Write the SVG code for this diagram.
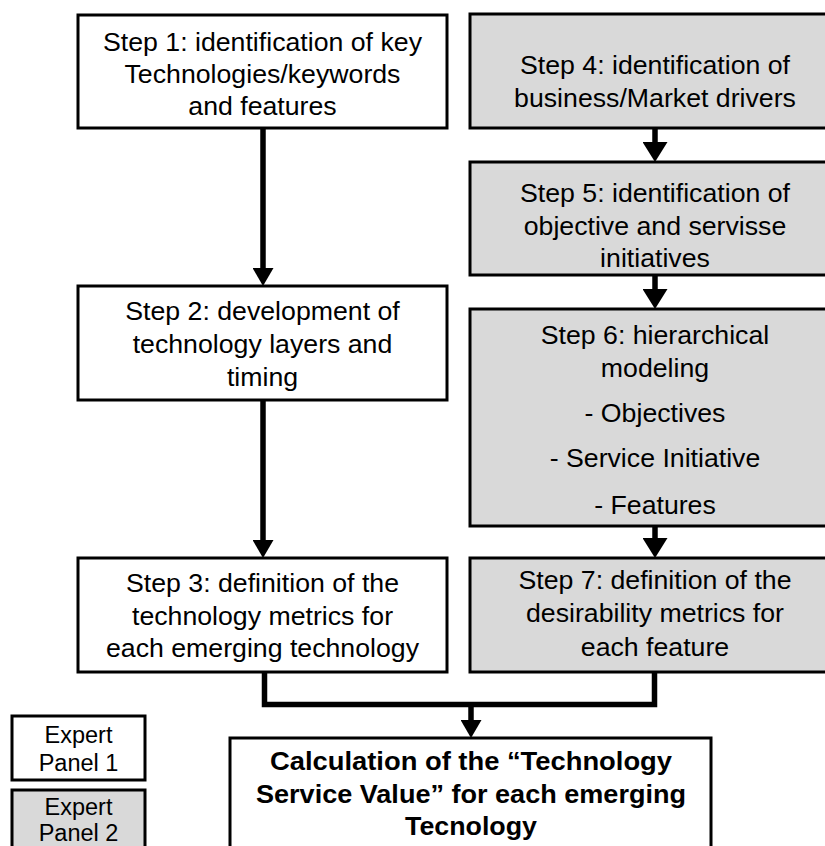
<svg xmlns="http://www.w3.org/2000/svg" width="825" height="846" viewBox="0 0 825 846">
<defs>
<style>
.box{stroke:#000;stroke-width:3}
.p1{fill:#fff}
.p2{fill:#d9d9d9}
text{font-family:"Liberation Sans",Arial,sans-serif;font-size:26.7px;fill:#000;text-anchor:middle}
.leg{font-size:23.5px}
.bold{font-weight:bold;font-size:25px}
.conn{fill:none;stroke:#000;stroke-width:5.5}
</style>
<marker id="ah" markerUnits="userSpaceOnUse" markerWidth="18" markerHeight="21" viewBox="0 0 18 21" refX="0" refY="10.5" orient="auto">
<path d="M0,0 L18,10.5 L0,21 z" fill="#000"/>
</marker>
<marker id="ah2" markerUnits="userSpaceOnUse" markerWidth="20" markerHeight="25" viewBox="0 0 20 25" refX="0" refY="12.5" orient="auto">
<path d="M0,0 L20,12.5 L0,25 z" fill="#000"/>
</marker>
</defs>
<rect width="825" height="846" fill="#fff"/>

<g id="connectors">
<line class="conn" x1="263" y1="128" x2="263" y2="268" marker-end="url(#ah)"/>
<line class="conn" x1="263" y1="400" x2="263" y2="540" marker-end="url(#ah)"/>
<line class="conn" x1="655" y1="128" x2="655" y2="142" marker-end="url(#ah2)"/>
<line class="conn" x1="655" y1="275" x2="655" y2="289" marker-end="url(#ah2)"/>
<line class="conn" x1="655" y1="526" x2="655" y2="538" marker-end="url(#ah2)"/>
<polyline class="conn" points="264.5,672 264.5,704.5 654.5,704.5 654.5,672"/>
<line class="conn" x1="471" y1="704" x2="471" y2="720" marker-end="url(#ah)"/>
</g>

<g id="step1">
<rect class="box p1" x="78" y="15" width="369" height="113"/>
<text x="262.5" y="51">Step 1: identification of key</text>
<text x="262.5" y="83">Technologies/keywords</text>
<text x="262.5" y="115">and features</text>
</g>

<g id="step2">
<rect class="box p1" x="78" y="286" width="369" height="114"/>
<text x="262.5" y="320">Step 2: development of</text>
<text x="262.5" y="353">technology layers and</text>
<text x="262.5" y="386">timing</text>
</g>

<g id="step3">
<rect class="box p1" x="78" y="558" width="369" height="114"/>
<text x="262.5" y="592">Step 3: definition of the</text>
<text x="262.5" y="625">technology metrics for</text>
<text x="262.5" y="657">each emerging technology</text>
</g>

<g id="step4">
<rect class="box p2" x="470" y="14" width="370" height="114"/>
<text x="655" y="74">Step 4: identification of</text>
<text x="655" y="107">business/Market drivers</text>
</g>

<g id="step5">
<rect class="box p2" x="470" y="162" width="370" height="113"/>
<text x="655" y="202">Step 5: identification of</text>
<text x="655" y="235">objective and servisse</text>
<text x="655" y="267">initiatives</text>
</g>

<g id="step6">
<rect class="box p2" x="470" y="309" width="370" height="217"/>
<text x="655" y="344">Step 6: hierarchical</text>
<text x="655" y="377">modeling</text>
<text x="655" y="422">- Objectives</text>
<text x="655" y="467">- Service Initiative</text>
<text x="655" y="514">- Features</text>
</g>

<g id="step7">
<rect class="box p2" x="470" y="558" width="370" height="114"/>
<text x="655" y="589">Step 7: definition of the</text>
<text x="655" y="622">desirability metrics for</text>
<text x="655" y="656">each feature</text>
</g>

<g id="result">
<rect class="box p1" x="230" y="738" width="481" height="120"/>
<text class="bold" x="471" y="770" textLength="402" lengthAdjust="spacingAndGlyphs">Calculation of the “Technology</text>
<text class="bold" x="471" y="803" textLength="430" lengthAdjust="spacingAndGlyphs">Service Value” for each emerging</text>
<text class="bold" x="471" y="835" textLength="132" lengthAdjust="spacingAndGlyphs">Tecnology</text>
</g>

<g id="legend1">
<rect class="box p1" x="12" y="716" width="133" height="64"/>
<text class="leg" x="78.5" y="743">Expert</text>
<text class="leg" x="78.5" y="771">Panel 1</text>
</g>

<g id="legend2">
<rect class="box p2" x="12" y="790" width="133" height="70"/>
<text class="leg" x="78.5" y="815">Expert</text>
<text class="leg" x="78.5" y="841">Panel 2</text>
</g>
</svg>
